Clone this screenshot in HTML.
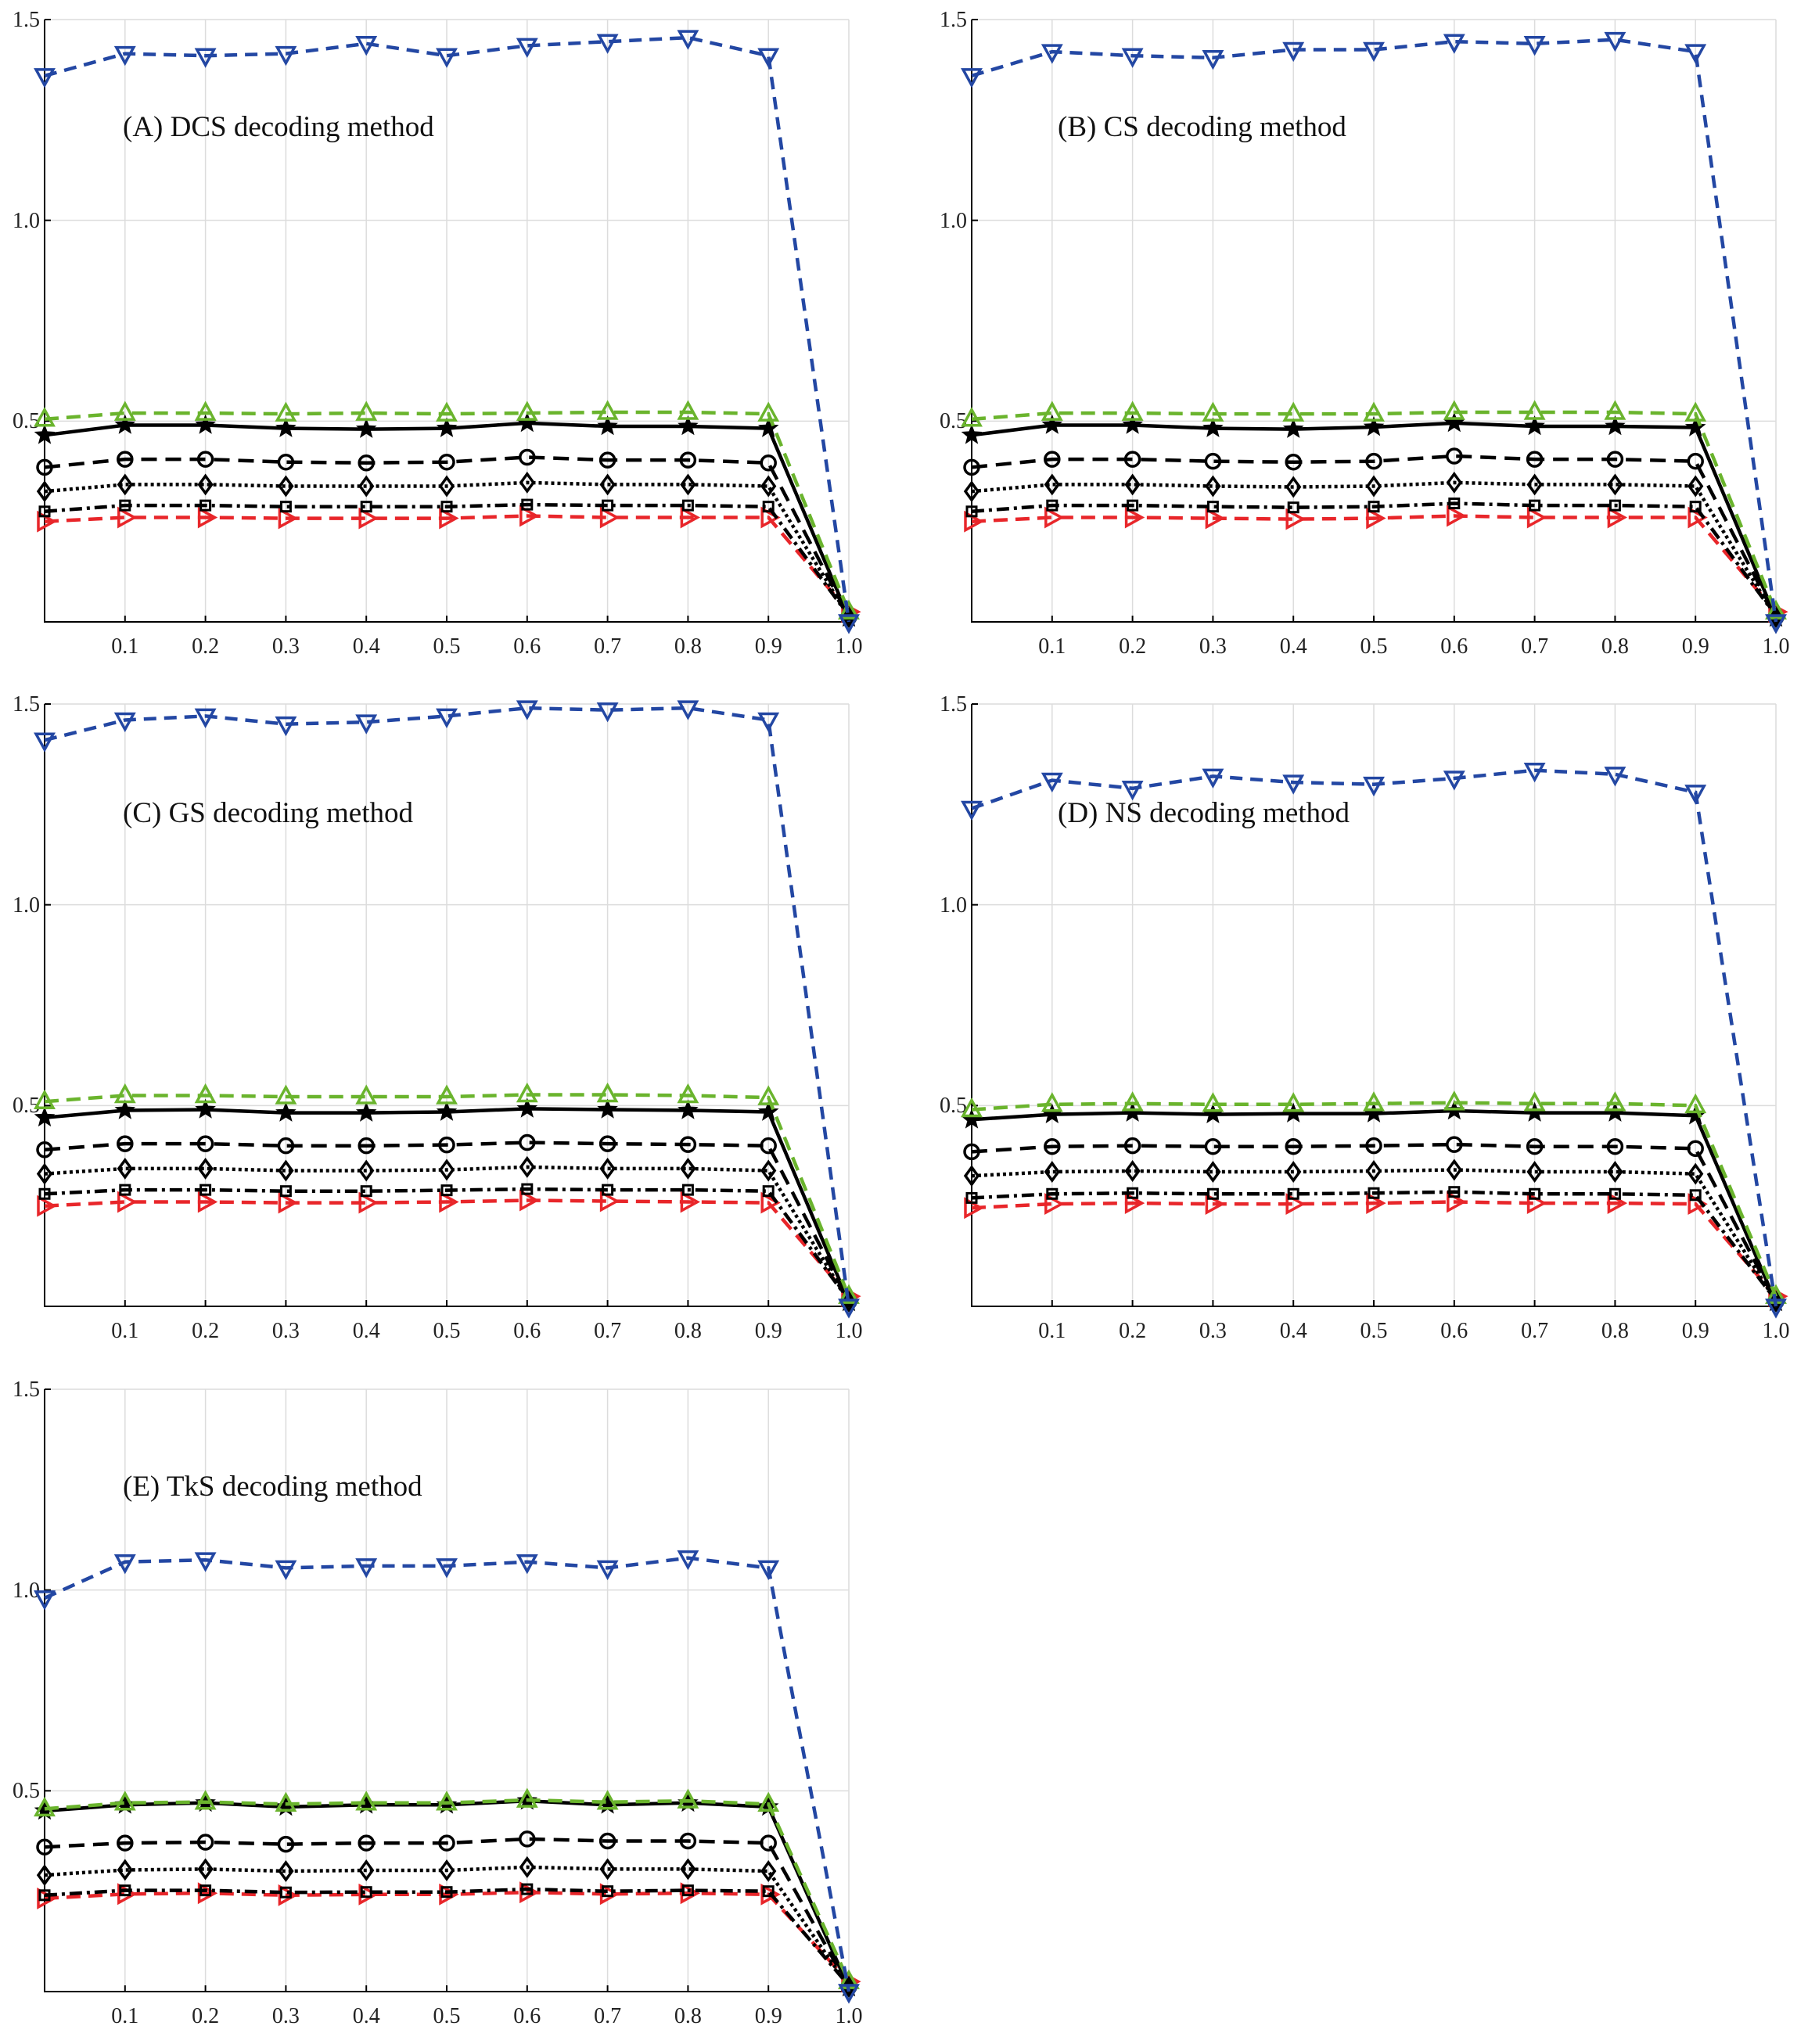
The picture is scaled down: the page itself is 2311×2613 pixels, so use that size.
<!DOCTYPE html>
<html><head><meta charset="utf-8"><style>
html,body{margin:0;padding:0;background:#fff;}
svg{display:block;font-family:"Liberation Serif",serif;}
.yl{font-size:28px;text-anchor:end;fill:#222}
.xl{font-size:28px;text-anchor:middle;fill:#222}
.tt{font-size:37px;fill:#111}
</style></head><body>
<svg id="s" width="2311" height="2613" viewBox="0 0 2311 2613" xmlns="http://www.w3.org/2000/svg">
<rect width="2311" height="2613" fill="#fff"/>
<g id="p0" transform="translate(57,25)">
<text class="yl" x="-6" y="9">1.5</text><text class="yl" x="-6" y="266">1.0</text><text class="yl" x="-6" y="522">0.5</text>
<text class="xl" x="102.8" y="810">0.1</text><text class="xl" x="205.6" y="810">0.2</text><text class="xl" x="308.4" y="810">0.3</text><text class="xl" x="411.2" y="810">0.4</text><text class="xl" x="514" y="810">0.5</text><text class="xl" x="616.8" y="810">0.6</text><text class="xl" x="719.6" y="810">0.7</text><text class="xl" x="822.4" y="810">0.8</text><text class="xl" x="925.2" y="810">0.9</text><text class="xl" x="1028" y="810">1.0</text>
<text class="tt" x="100" y="149">(A) DCS decoding method</text>
</g>
<g id="p1" transform="translate(1242,25)">
<text class="yl" x="-6" y="9">1.5</text><text class="yl" x="-6" y="266">1.0</text><text class="yl" x="-6" y="522">0.5</text>
<text class="xl" x="102.8" y="810">0.1</text><text class="xl" x="205.6" y="810">0.2</text><text class="xl" x="308.4" y="810">0.3</text><text class="xl" x="411.2" y="810">0.4</text><text class="xl" x="514" y="810">0.5</text><text class="xl" x="616.8" y="810">0.6</text><text class="xl" x="719.6" y="810">0.7</text><text class="xl" x="822.4" y="810">0.8</text><text class="xl" x="925.2" y="810">0.9</text><text class="xl" x="1028" y="810">1.0</text>
<text class="tt" x="110" y="149">(B) CS decoding method</text>
</g>
<g id="p2" transform="translate(57,900)">
<text class="yl" x="-6" y="9">1.5</text><text class="yl" x="-6" y="266">1.0</text><text class="yl" x="-6" y="522">0.5</text>
<text class="xl" x="102.8" y="810">0.1</text><text class="xl" x="205.6" y="810">0.2</text><text class="xl" x="308.4" y="810">0.3</text><text class="xl" x="411.2" y="810">0.4</text><text class="xl" x="514" y="810">0.5</text><text class="xl" x="616.8" y="810">0.6</text><text class="xl" x="719.6" y="810">0.7</text><text class="xl" x="822.4" y="810">0.8</text><text class="xl" x="925.2" y="810">0.9</text><text class="xl" x="1028" y="810">1.0</text>
<text class="tt" x="100" y="151">(C) GS decoding method</text>
</g>
<g id="p3" transform="translate(1242,900)">
<text class="yl" x="-6" y="9">1.5</text><text class="yl" x="-6" y="266">1.0</text><text class="yl" x="-6" y="522">0.5</text>
<text class="xl" x="102.8" y="810">0.1</text><text class="xl" x="205.6" y="810">0.2</text><text class="xl" x="308.4" y="810">0.3</text><text class="xl" x="411.2" y="810">0.4</text><text class="xl" x="514" y="810">0.5</text><text class="xl" x="616.8" y="810">0.6</text><text class="xl" x="719.6" y="810">0.7</text><text class="xl" x="822.4" y="810">0.8</text><text class="xl" x="925.2" y="810">0.9</text><text class="xl" x="1028" y="810">1.0</text>
<text class="tt" x="110" y="151">(D) NS decoding method</text>
</g>
<g id="p4" transform="translate(57,1776)">
<text class="yl" x="-6" y="9">1.5</text><text class="yl" x="-6" y="266">1.0</text><text class="yl" x="-6" y="522">0.5</text>
<text class="xl" x="102.8" y="810">0.1</text><text class="xl" x="205.6" y="810">0.2</text><text class="xl" x="308.4" y="810">0.3</text><text class="xl" x="411.2" y="810">0.4</text><text class="xl" x="514" y="810">0.5</text><text class="xl" x="616.8" y="810">0.6</text><text class="xl" x="719.6" y="810">0.7</text><text class="xl" x="822.4" y="810">0.8</text><text class="xl" x="925.2" y="810">0.9</text><text class="xl" x="1028" y="810">1.0</text>
<text class="tt" x="100" y="136">(E) TkS decoding method</text>
</g>
</svg>
<script>
var W=1028,H=770,NS="http://www.w3.org/2000/svg";
function X(i){return i*W/10;} function Y(v){return H-v/1.5*H;}
function el(t,a,p){var e=document.createElementNS(NS,t);for(var k in a)e.setAttribute(k,a[k]);p.appendChild(e);return e;}
var blue=[[1.36,1.415,1.41,1.415,1.44,1.41,1.435,1.445,1.455,1.41,0.0],[1.36,1.42,1.41,1.405,1.425,1.425,1.445,1.44,1.45,1.42,0.0],[1.41,1.46,1.47,1.45,1.455,1.47,1.49,1.485,1.49,1.46,0.0],[1.24,1.31,1.29,1.32,1.305,1.30,1.315,1.335,1.325,1.28,0.0],[0.98,1.07,1.075,1.055,1.06,1.06,1.07,1.055,1.08,1.055,0.0]];
var sets=[
 {g:[0.505,0.52,0.52,0.518,0.52,0.518,0.52,0.522,0.522,0.518],s:[0.465,0.49,0.49,0.482,0.48,0.482,0.495,0.487,0.487,0.482],c:[0.385,0.405,0.405,0.398,0.396,0.398,0.41,0.403,0.403,0.396],d:[0.325,0.342,0.342,0.338,0.338,0.338,0.347,0.342,0.342,0.338],q:[0.275,0.29,0.29,0.287,0.287,0.287,0.292,0.29,0.29,0.287],r:[0.25,0.26,0.26,0.258,0.258,0.258,0.264,0.26,0.26,0.26]},
 {g:[0.505,0.52,0.52,0.518,0.518,0.518,0.522,0.522,0.522,0.518],s:[0.465,0.49,0.49,0.482,0.48,0.485,0.495,0.487,0.487,0.484],c:[0.385,0.405,0.405,0.4,0.398,0.4,0.413,0.405,0.405,0.4],d:[0.325,0.342,0.342,0.338,0.336,0.338,0.347,0.342,0.342,0.338],q:[0.275,0.29,0.29,0.287,0.285,0.287,0.295,0.29,0.29,0.287],r:[0.25,0.26,0.26,0.258,0.256,0.258,0.264,0.26,0.26,0.26]},
 {g:[0.51,0.525,0.525,0.522,0.522,0.522,0.527,0.527,0.525,0.52],s:[0.47,0.488,0.49,0.482,0.482,0.484,0.492,0.49,0.488,0.484],c:[0.39,0.405,0.405,0.4,0.4,0.402,0.408,0.405,0.403,0.4],d:[0.33,0.343,0.343,0.338,0.338,0.34,0.347,0.343,0.343,0.338],q:[0.28,0.29,0.29,0.287,0.287,0.289,0.292,0.29,0.29,0.287],r:[0.25,0.26,0.26,0.258,0.258,0.26,0.264,0.262,0.26,0.258]},
 {g:[0.49,0.503,0.505,0.503,0.503,0.505,0.507,0.505,0.505,0.5],s:[0.465,0.478,0.482,0.478,0.48,0.48,0.487,0.482,0.482,0.475],c:[0.385,0.398,0.4,0.398,0.398,0.4,0.403,0.398,0.398,0.393],d:[0.325,0.335,0.337,0.335,0.335,0.337,0.34,0.335,0.335,0.33],q:[0.27,0.28,0.282,0.28,0.28,0.282,0.285,0.28,0.28,0.277],r:[0.245,0.255,0.257,0.255,0.255,0.257,0.26,0.257,0.257,0.255]},
 {g:[0.455,0.47,0.472,0.467,0.47,0.47,0.477,0.472,0.475,0.467],s:[0.45,0.465,0.47,0.46,0.465,0.465,0.475,0.465,0.47,0.46],c:[0.36,0.37,0.372,0.367,0.37,0.37,0.38,0.375,0.375,0.37],d:[0.29,0.303,0.305,0.3,0.302,0.302,0.31,0.305,0.305,0.3],q:[0.24,0.252,0.252,0.247,0.248,0.248,0.255,0.25,0.252,0.25],r:[0.232,0.243,0.245,0.24,0.242,0.242,0.247,0.243,0.245,0.242]}
];
var ends={g:0.025,s:0.01,c:0.012,d:0.012,q:0.015,r:0.025};
function marker(g,type,x,y,col){
 var r=11,sw=3.5;
 if(type==='tri'){el('polygon',{points:(x)+','+(y-r-1)+' '+(x-r)+','+(y+r-3)+' '+(x+r)+','+(y+r-3),fill:'none',stroke:col,'stroke-width':sw},g);}
 else if(type==='dtri'){el('polygon',{points:(x)+','+(y+r+1)+' '+(x-r)+','+(y-r+3)+' '+(x+r)+','+(y-r+3),fill:'none',stroke:col,'stroke-width':sw},g);}
 else if(type==='rtri'){el('polygon',{points:(x+r+1)+','+y+' '+(x-r+3)+','+(y-r)+' '+(x-r+3)+','+(y+r),fill:'none',stroke:col,'stroke-width':sw},g);}
 else if(type==='circ'){el('circle',{cx:x,cy:y,r:9,fill:'none',stroke:col,'stroke-width':sw},g);}
 else if(type==='dia'){el('polygon',{points:x+','+(y-11)+' '+(x+8)+','+y+' '+x+','+(y+11)+' '+(x-8)+','+y,fill:'none',stroke:col,'stroke-width':sw},g);}
 else if(type==='sq'){el('rect',{x:x-6,y:y-6,width:12,height:12,fill:'none',stroke:col,'stroke-width':3},g);}
 else if(type==='star'){var p=[];for(var k=0;k<10;k++){var a=-Math.PI/2+k*Math.PI/5,rr=k%2?6:14;p.push((x+rr*Math.cos(a)).toFixed(1)+','+(y+rr*Math.sin(a)).toFixed(1));}el('polygon',{points:p.join(' '),fill:col},g);}
}
function series(g,vals,col,dash,type,w){
 var d='';for(var i=0;i<vals.length;i++)d+=(i?'L':'M')+X(i).toFixed(1)+','+Y(vals[i]).toFixed(1);
 var a={d:d,fill:'none',stroke:col,'stroke-width':w||4.5};if(dash)a['stroke-dasharray']=dash;el('path',a,g);
 for(var i=0;i<vals.length;i++)marker(g,type,X(i),Y(vals[i]),col);
}
for(var p=0;p<5;p++){
 var g=document.getElementById('p'+p);
 var bg=document.createElementNS(NS,'g');g.insertBefore(bg,g.firstChild);
 for(var i=1;i<=10;i++)el('line',{x1:X(i),y1:0,x2:X(i),y2:H,stroke:'#dcdcdc','stroke-width':1.5},bg);
 for(var v=0.5;v<=1.5;v+=0.5)el('line',{x1:0,y1:Y(v),x2:W,y2:Y(v),stroke:'#dcdcdc','stroke-width':1.5},bg);
 el('line',{x1:0,y1:0,x2:0,y2:H+1,stroke:'#000','stroke-width':2},bg);
 el('line',{x1:0,y1:H,x2:W,y2:H,stroke:'#000','stroke-width':2},bg);
 for(var i=1;i<=10;i++)el('line',{x1:X(i),y1:H,x2:X(i),y2:H-8,stroke:'#000','stroke-width':2},bg);
 for(var v=0.5;v<=1.5;v+=0.5)el('line',{x1:0,y1:Y(v),x2:8,y2:Y(v),stroke:'#000','stroke-width':2},bg);
 var S=sets[p];
 function f(a,k){return a.concat([ends[k]]);}
 series(g,f(S.r,'r'),'#e8262a','18,10','rtri');
 series(g,f(S.q,'q'),'#000','16,6,4,6','sq');
 series(g,f(S.d,'d'),'#000','4,4','dia');
 series(g,f(S.c,'c'),'#000','20,11','circ');
 series(g,f(S.s,'s'),'#000',null,'star');
 series(g,f(S.g,'g'),'#6ab42d','18,10','tri');
 series(g,blue[p],'#2347a3','16,10','dtri');
}
</script>
</body></html>
